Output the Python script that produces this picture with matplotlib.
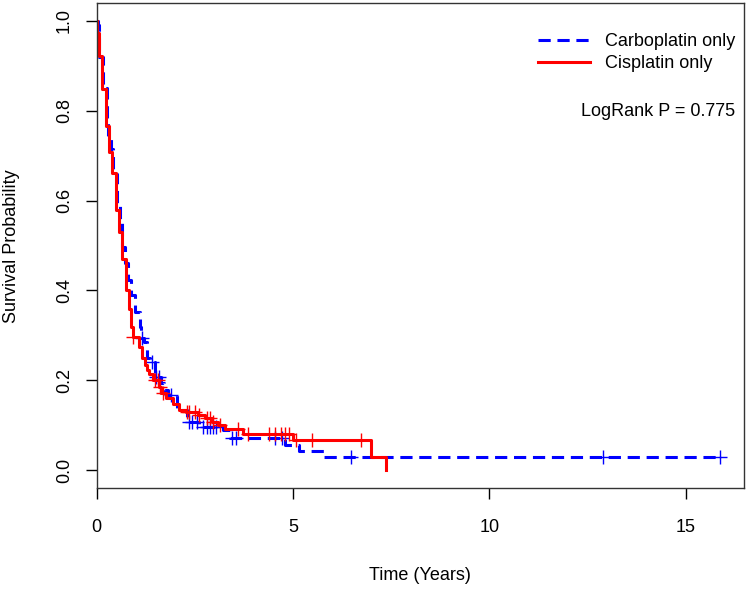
import numpy as np
import matplotlib
matplotlib.use("Agg")
import matplotlib.pyplot as plt

plt.rcParams['font.family'] = ['Liberation Sans', 'DejaVu Sans']

# Kaplan-Meier step estimates (time in years, survival after the step)
carbo_t = [0, 0.03, 0.075, 0.16, 0.26, 0.30, 0.36, 0.42, 0.52, 0.59, 0.66, 0.72, 0.80,
           0.88, 0.97, 1.10, 1.14, 1.22, 1.29, 1.36, 1.48, 1.65, 1.72, 1.83, 2.05, 2.30,
           2.60, 3.22, 3.40, 4.80, 5.16, 5.80]
carbo_s = [1.0, 0.991, 0.92, 0.85, 0.781, 0.739, 0.716, 0.66, 0.595, 0.55, 0.497, 0.46,
           0.423, 0.39, 0.352, 0.319, 0.295, 0.286, 0.249, 0.241, 0.208, 0.193, 0.178,
           0.167, 0.134, 0.108, 0.096, 0.089, 0.071, 0.056, 0.043, 0.030]
carbo_end = 15.87
carbo_cens = [1.16, 1.40, 1.52, 1.60, 1.90, 2.35, 2.42, 2.55, 2.72, 2.80, 2.88, 2.97,
              3.05, 3.45, 3.55, 4.55, 4.72, 6.48, 12.9, 15.87]

cis_t = [0, 0.005, 0.064, 0.148, 0.234, 0.318, 0.402, 0.489, 0.573, 0.656, 0.745, 0.828,
         0.87, 0.92, 1.08, 1.165, 1.234, 1.293, 1.34, 1.45, 1.58, 1.65, 1.78, 1.94, 2.11,
         2.28, 2.58, 2.75, 2.93, 3.10, 3.27, 3.73, 4.99, 6.98, 7.38]
cis_s = [1.0, 0.974, 0.921, 0.849, 0.767, 0.708, 0.661, 0.579, 0.529, 0.471, 0.401, 0.358,
         0.318, 0.297, 0.275, 0.249, 0.234, 0.223, 0.214, 0.20, 0.185, 0.171, 0.16, 0.147,
         0.134, 0.13, 0.1225, 0.115, 0.1076, 0.10, 0.0906, 0.080, 0.067, 0.028, 0.0]
cis_end = 7.38
cis_cens = [0.94, 1.48, 1.56, 1.62, 1.70, 2.30, 2.36, 2.50, 2.62, 2.80, 2.88, 2.97, 3.15,
            3.60, 3.85, 4.40, 4.55, 4.70, 4.80, 4.90, 5.08, 5.48, 6.73]

labels = ["Carboplatin only", "Cisplatin only"]
pval = 0.775


def surv_at(ts, ss, x):
    #value of the step function at the censor times
    idx = np.searchsorted(ts, x, side='right') - 1
    return np.asarray(ss)[idx]


fig = plt.figure(figsize=(7.5, 5.9), dpi=100)
ax = fig.add_axes([96.5/750, 1-488/590, (744-96.5)/750, (488-3)/590])

fs = 13
blue = '#0000FF'
red = '#FF0000'

ax.step(carbo_t + [carbo_end], carbo_s + [carbo_s[-1]], where='post', color=blue,
        lw=2.2, ls=(0, (4, 2.2)), label=labels[0])
ax.plot(carbo_cens, surv_at(carbo_t, carbo_s, carbo_cens), '+', color=blue, ms=10, mew=1)

ax.step(cis_t + [cis_end], cis_s + [cis_s[-1]], where='post', color=red, lw=2.2,
        label=labels[1])
ax.plot(cis_cens, surv_at(cis_t, cis_s, cis_cens), '+', color=red, ms=10, mew=1)

ax.set_xlim(0, 16.48)
ax.set_ylim(-0.04, 1.04)
ax.set_xticks([0, 5, 10, 15])
ax.set_yticks([0.0, 0.2, 0.4, 0.6, 0.8, 1.0])
ax.set_yticklabels(["0.0", "0.2", "0.4", "0.6", "0.8", "1.0"], rotation=90, va='center')
ax.tick_params(length=8, width=1, labelsize=fs, direction='out')
ax.tick_params(axis='x', pad=14.5)
ax.tick_params(axis='y', pad=9)
for sp in ax.spines.values():
    sp.set_linewidth(1)
    sp.set_color('#333333')

fig.text(12/750, 1-(246/590), "Survival Probability", rotation=90, ha='center',
         va='center', fontsize=fs)
fig.text(420/750, 1-575/590, "Time (Years)", ha='center', va='center', fontsize=fs)

leg = ax.legend(loc='upper right', bbox_to_anchor=(735/750, 1-33/590),
                bbox_transform=fig.transFigure, frameon=False, fontsize=fs,
                handlelength=2.9, handletextpad=0.8, labelspacing=0.3, borderpad=0,
                borderaxespad=0)
fig.text(735/750, 1-111/590, "LogRank P = %.3f" % pval, ha='right', va='center',
         fontsize=fs)

fig.savefig("out.png", dpi=100)
